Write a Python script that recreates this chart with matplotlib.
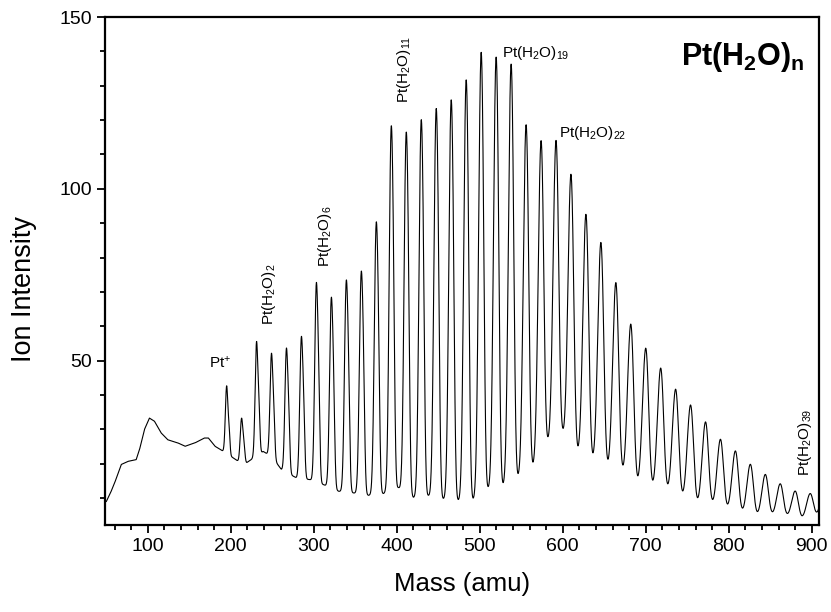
import numpy as np
import matplotlib
matplotlib.use("Agg")
import matplotlib.pyplot as plt

plt.rcParams['font.family'] = 'Liberation Sans'
plt.rcParams['mathtext.fontset'] = 'custom'
plt.rcParams['mathtext.rm'] = 'Liberation Sans'
plt.rcParams['mathtext.it'] = 'Liberation Sans:italic'
plt.rcParams['mathtext.bf'] = 'Liberation Sans:bold'
plt.rcParams['mathtext.default'] = 'regular'

# cluster peaks Pt(H2O)n, n = 0..40
n_water = np.arange(0, 41)
peak_mass = 195 + 18 * n_water
peak_height = [42.7, 33.3, 55.6, 52.2, 53.7, 57.1, 72.8, 68.5, 73.5, 76.1,
               90.4, 118.3, 116.6, 120.1, 123.4, 125.9, 131.7, 139.6, 138.3, 136.2,
               118.5, 113.7, 114.0, 104.5, 92.7, 84.5, 72.8, 60.8, 53.7, 47.9,
               41.8, 37.2, 32.2, 27.2, 23.8, 19.9, 16.9, 14.2, 12.1, 11.3, 12.0]

# peak widths (FWHM, amu) at a few masses
width_mass = [195, 350, 500, 700, 900]
width_fwhm = [3.6, 5.0, 6.2, 8.3, 9.0]

# background / valley levels between the peaks
bg_mass = [50, 55, 60, 68, 76, 86, 90, 96, 102, 108, 116, 124, 136, 145, 157,
           168, 173, 181, 191, 203, 209, 219, 239, 245, 255, 261, 279, 295, 312,
           330, 348, 366, 384, 402, 420, 438, 456, 474, 492, 510, 528, 546, 564,
           582, 600, 618, 636, 654, 672, 690, 708, 726, 744, 762, 780, 798, 816,
           834, 852, 870, 888, 906, 910]
bg_level = [9.0, 11.5, 14.4, 19.8, 20.7, 21.2, 24.1, 30.0, 33.3, 32.4, 29.0,
            27.0, 26.1, 25.1, 26.1, 27.5, 27.5, 25.1, 23.6, 21.7, 20.7, 20.3,
            23.6, 22.7, 20.3, 18.3, 15.9, 15.4, 13.9, 12.0, 11.5, 10.8, 11.3,
            13.0, 10.1, 10.6, 9.6, 9.1, 9.3, 12.4, 13.2, 15.6, 18.7, 25.8, 28.0,
            22.6, 20.3, 18.3, 16.7, 13.5, 12.3, 11.5, 9.6, 7.8, 7.6, 6.5, 5.5,
            4.7, 4.9, 4.6, 4.0, 4.9, 5.0]

shoulder_shift = 3.0
shoulder_ratio = 0.3

mass = np.linspace(48, 912, 6000)
signal = np.interp(mass, bg_mass, bg_level)
for m0, h in zip(peak_mass, peak_height):
    s = np.interp(m0, width_mass, width_fwhm) / 2.355
    s2 = 0.7 * s
    shape = np.exp(-(mass - m0) ** 2 / (2 * s ** 2)) \
        + shoulder_ratio * np.exp(-(mass - m0 - shoulder_shift) ** 2 / (2 * s2 ** 2))
    a = h - np.interp(m0, bg_mass, bg_level)
    signal = signal + a * shape / shape.max()

fig = plt.figure(figsize=(8.31, 6.12), dpi=100)
ax = fig.add_axes([0.1264, 0.1422, 0.8595, 0.830])
ax.plot(mass, signal, color='black', lw=0.8)

ax.set_xlim(48.5, 909)
ax.set_ylim(2.2, 150)
ax.set_xticks([100, 200, 300, 400, 500, 600, 700, 800, 900])
ax.set_xticks(np.arange(60, 910, 20), minor=True)
ax.set_yticks([50, 100, 150])
ax.set_yticks(np.arange(10, 150, 10), minor=True)
ax.tick_params(which='both', direction='out', top=False, right=False, width=1.3, labelsize=14)
ax.tick_params(which='major', length=6)
ax.tick_params(which='minor', length=3.5)
for sp in ax.spines.values():
    sp.set_linewidth(1.6)

ax.set_xlabel('Mass (amu)', fontsize=18.5, labelpad=12)
ax.set_ylabel('Ion Intensity', fontsize=19.5)
ax.yaxis.set_label_coords(-0.095, 0.465)

# peak labels
ax.text(187, 49.5, 'Pt$^{+}$', fontsize=11, ha='center', va='center')
ax.text(246, 60.5, 'Pt(H$_2$O)$_2$', fontsize=11, rotation=90, ha='center', va='bottom')
ax.text(313, 77.4, 'Pt(H$_2$O)$_6$', fontsize=11, rotation=90, ha='center', va='bottom')
ax.text(409, 125, 'Pt(H$_2$O)$_{11}$', fontsize=11, rotation=90, ha='center', va='bottom')
ax.text(527, 138.3, 'Pt(H$_2$O)$_{19}$', fontsize=11, ha='left', va='baseline')
ax.text(595, 115.0, 'Pt(H$_2$O)$_{22}$', fontsize=11, ha='left', va='baseline')
ax.text(892, 16.4, 'Pt(H$_2$O)$_{39}$', fontsize=11, rotation=90, ha='center', va='bottom')

ax.text(0.98, 0.905, r'$\mathbf{Pt(H_2O)_n}$', fontsize=22, ha='right', va='baseline',
        transform=ax.transAxes)

plt.savefig('out.png', dpi=100)
